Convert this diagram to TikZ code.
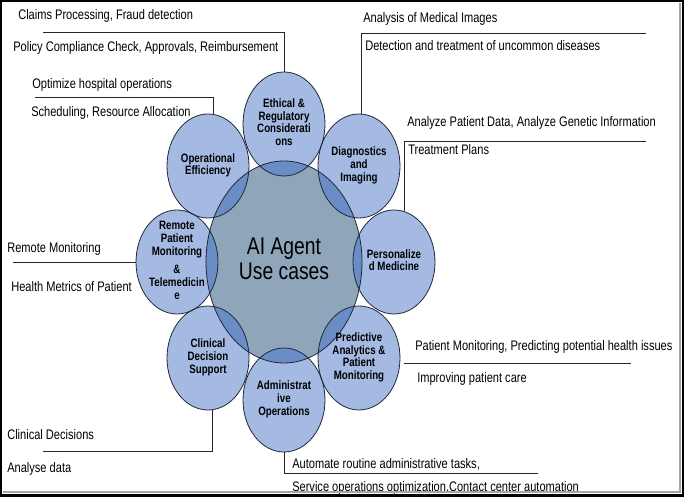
\documentclass[tikz,border=0pt]{standalone}
\usepackage{fontspec}
\usepackage{graphicx}
\setmainfont{Liberation Sans}
\usetikzlibrary{shapes.geometric,calc}
\definecolor{smallfill}{HTML}{A4BAE2}
\definecolor{overlapfill}{HTML}{6B8DC5}
\definecolor{centerfill}{HTML}{8FA6BA}
\definecolor{edgecol}{HTML}{1F2837}
\newcommand{\vtxt}[1]{\scalebox{1}[1.25]{\begin{tabular}{@{}c@{}}#1\end{tabular}}}
\newcommand{\stretchline}[1]{\scalebox{1}[1.25]{#1}}
\begin{document}
\begin{tikzpicture}[x=0.75pt,y=-0.75pt,
  usecase/.style={ellipse, draw=edgecol, line width=0.6pt, minimum width=61.5pt, minimum height=78pt, inner sep=0pt, align=center, font=\fontsize{7.3}{7.7}\selectfont\bfseries},
  hub/.style={ellipse, draw=edgecol, line width=0.6pt, minimum width=117pt, minimum height=151.5pt, inner sep=0pt, align=center, font=\fontsize{14.5}{15}\selectfont},
  note/.style={anchor=west, inner sep=0pt, font=\fontsize{8.3}{10}\selectfont},
  link/.style={draw=black!85, line width=0.5pt}]
\useasboundingbox (0,0) rectangle (685,498);
\fill[white] (0,0) rectangle (685,498);
% fills
\fill[centerfill] (284,262) ellipse [x radius=58.5pt, y radius=75.75pt];
\foreach \p in {(284,124),(359,166),(394,262),(359,358),(284,400),(208,358),(177,262),(208,166)}{
  \fill[smallfill] \p ellipse [x radius=30.75pt, y radius=39pt];
}
\begin{scope}
  \clip (284,262) ellipse [x radius=58.5pt, y radius=75.75pt];
  \foreach \p in {(284,124),(359,166),(394,262),(359,358),(284,400),(208,358),(177,262),(208,166)}{
    \fill[overlapfill] \p ellipse [x radius=30.75pt, y radius=39pt];
  }
\end{scope}
% nodes
\node[hub] (hub) at (284,262) {\vtxt{AI Agent\\Use cases}};
\node[usecase] (eth) at (284,124) {\vtxt{Ethical \&\\Regulatory\\Considerati\\ons}};
\node[usecase] (diag) at (359,166) {\vtxt{Diagnostics\\and\\Imaging}};
\node[usecase] (pers) at (394,262) {\vtxt{Personalize\\d Medicine}};
\node[usecase] (pred) at (359,358) {\vtxt{Predictive\\Analytics \&\\Patient\\Monitoring}};
\node[usecase] (adm) at (284,400) {\vtxt{Administrat\\ive\\Operations}};
\node[usecase] (clin) at (208,358) {\vtxt{Clinical\\Decision\\Support}};
\node[usecase, inner sep=-8pt] (rem) at (177,262) {\vtxt{Remote\\Patient\\Monitoring\\[3.4pt]\&\\Telemedicin\\e}};
\node[usecase] (op) at (208,166) {\vtxt{Operational\\Efficiency}};
% connector coordinates
\coordinate (e1) at (284,32); \coordinate (e2) at (43,32);
\coordinate (o1) at (213,97); \coordinate (o2) at (35,97);
\coordinate (d1) at (361,33); \coordinate (d2) at (646,33);
\coordinate (p1) at (404,141); \coordinate (p2) at (646,141);
\coordinate (r1) at (13,262);
\coordinate (pr1) at (404,363); \coordinate (pr2) at (631,363);
\coordinate (c1) at (212,451); \coordinate (c2) at (43,451);
\coordinate (a1) at (284,473); \coordinate (a2) at (538,473);
% connectors
\draw[link] (eth.north) -- (e1) -- (e2);
\draw[link] (o1 |- op.north) -- (o1) -- (o2);
\draw[link] (d1 |- diag.north) -- (d1) -- (d2);
\draw[link] (p1 |- pers.78) -- (p1) -- (p2);
\draw[link] (rem.west) -- (r1);
\draw[link] (pr1) -- (pr2);
\draw[link] (c1 |- clin.south) -- (c1) -- (c2);
\draw[link] (adm.south) -- (a1) -- (a2);
% notes
\node[note] at (18,16) {\stretchline{Claims Processing, Fraud detection}};
\node[note] at (13,48) {\stretchline{Policy Compliance Check, Approvals, Reimbursement}};
\node[note] at (32,85) {\stretchline{Optimize hospital operations}};
\node[note] at (31,113) {\stretchline{Scheduling, Resource Allocation}};
\node[note] at (363,19) {\stretchline{Analysis of Medical Images}};
\node[note] at (365,46) {\stretchline{Detection and treatment of uncommon diseases}};
\node[note] at (407,123) {\stretchline{Analyze Patient Data, Analyze Genetic Information}};
\node[note] at (408,150) {\stretchline{Treatment Plans}};
\node[note] at (7,249) {\stretchline{Remote Monitoring}};
\node[note] at (11,287) {\stretchline{Health Metrics of Patient}};
\node[note] at (415,347) {\stretchline{Patient Monitoring, Predicting potential health issues}};
\node[note] at (417,379) {\stretchline{Improving patient care}};
\node[note] at (7,435) {\stretchline{Clinical Decisions}};
\node[note] at (7,469) {\stretchline{Analyse data}};
\node[note] at (292,464) {\stretchline{Automate routine administrative tasks,}};
\node[note] at (292,488) {\stretchline{Service operations optimization,Contact center automation}};
% frame
\draw[gray!70, line width=0.8pt] (680,3) -- (680,492) -- (3,492);
\draw[black, line width=1.6pt] (1,1) rectangle (683,495.5);
\end{tikzpicture}
\end{document}
